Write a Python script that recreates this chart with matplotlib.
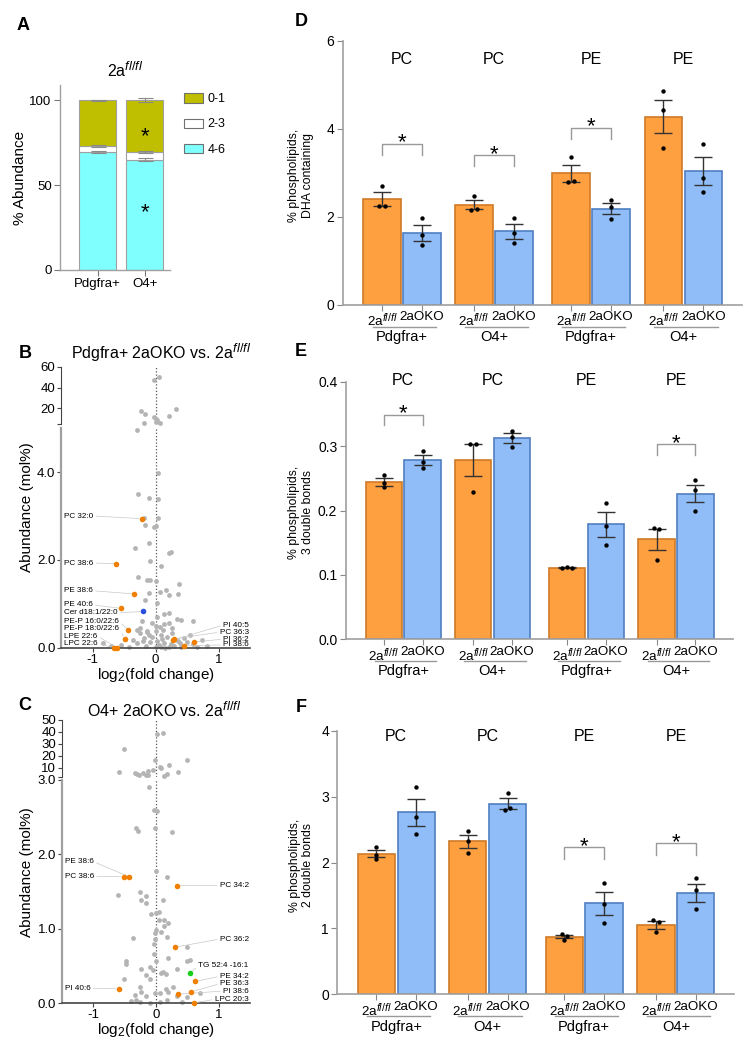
import numpy as np
import matplotlib.pyplot as plt
import matplotlib._mathtext as mathtext_internal
from matplotlib.patches import Patch

plt.rcParams['font.family'] = ['Liberation Sans', 'DejaVu Sans']
plt.rcParams['mathtext.fontset'] = 'custom'
plt.rcParams['mathtext.rm'] = 'Liberation Sans'
plt.rcParams['mathtext.it'] = 'Liberation Sans:italic'
plt.rcParams['mathtext.bf'] = 'Liberation Sans:bold'
plt.rcParams['axes.unicode_minus'] = False
# the fl/fl superscripts in the figure are a bit larger than mathtext's default
mathtext_internal.SHRINK_FACTOR = 0.8

W, H = 754, 1048

# ---------------- data ----------------
# A: % abundance by number of double bonds, 2a fl/fl
a_cells = ['Pdgfra+', 'O4+']
a_46 = [69.5, 65.0]
a_23 = [3.5, 4.5]
a_01 = [27.0, 30.5]
a_err46 = [0.6, 1.0]
a_err23 = [0.5, 0.6]
a_err01 = [0.4, 1.3]

# B: Pdgfra+ 2aOKO vs 2a fl/fl  (log2 fold change, mol%)
b_up_x = [-0.03, 0.05, -0.23, -0.16, 0.33, 0.22, -0.02, 0.01, 0.03, 0.00, 0.07, -0.19]
b_up_y = [47.3, 50.2, 17.1, 14.6, 19.3, 12.1, 11.1, 9.8, 8.6, 6.7, 6.0, 6.0]
b_gray_x = [-0.30, 0.04, -0.28, -0.10, 0.04, -0.19, 0.04, -0.17, -0.02, 0.00,
            -0.32, -0.10, 0.21, 0.24, -0.09, 0.08, -0.27, -0.14, -0.08, 0.00,
            0.37, 0.17, 0.21, 0.36, -0.10, 0.07, -0.17, 0.03, 0.13, 0.21,
            0.03, 0.34, 0.40, 0.59, -0.22, -0.06, 0.00, 0.07, 0.14, 0.21,
            0.26, -0.29, -0.24, -0.13,
            -0.84, -0.29, -0.18, -0.08, 0.00, 0.05, 0.13, 0.21, 0.39, 0.50,
            0.66, 0.74, -0.24, -0.13, 0.08, 0.18, 0.26, -0.42, -0.55,
            -0.35, -0.05, 0.10, 0.30, 0.45, 0.60, 0.02, -0.15, 0.15, 0.35,
            0.55, -0.10, 0.25, 0.82, -0.70, 0.40, 0.00, 0.12, -0.20, 0.08]
b_gray_y = [4.95, 3.98, 3.50, 3.41, 3.38, 2.96, 2.96, 2.80, 2.75, 2.78,
            2.28, 2.38, 2.15, 2.19, 1.98, 1.86, 1.61, 1.54, 1.55, 1.53,
            1.45, 1.32, 1.20, 1.23, 1.26, 1.27, 1.09, 1.03, 0.77, 0.79,
            0.71, 0.65, 0.64, 0.61, 0.62, 0.56, 0.50, 0.47, 0.55, 0.56,
            0.45, 0.41, 0.45, 0.39,
            0.11, 0.11, 0.22, 0.14, 0.03, 0.07, 0.12, 0.03, 0.11, 0.14,
            0.03, 0.18, 0.33, 0.37, 0.30, 0.26, 0.33, 0.03, 0.07,
            0.18, 0.25, 0.20, 0.05, 0.22, 0.08, 0.15, 0.05, 0.00, 0.15,
            0.30, 0.30, 0.10, 0.05, 0.05, 0.02, 0.38, 0.40, 0.15, 0.02]
b_hit_names = ['PC 32:0', 'PC 38:6', 'PE 38:6', 'PE 40:6', 'Cer d18:1/22:0',
               'PE-P 16:0/22:6', 'PE-P 18:0/22:6', 'LPE 22:6', 'LPC 22:6',
               'PI 40:5', 'PC 36:3', 'PI 36:2', 'PI 38:6']
b_hit_x = [-0.22, -0.62, -0.34, -0.55, -0.20, -0.43, -0.49, -0.61, -0.66, 0.28, 0.30, 0.61, 0.46]
b_hit_y = [2.94, 1.92, 1.23, 0.90, 0.83, 0.40, 0.21, 0.01, 0.00, 0.18, 0.21, 0.14, 0.05]
b_hit_kind = ['PL', 'PL', 'PL', 'PL', 'Cer', 'PL', 'PL', 'PL', 'PL', 'PL', 'PL', 'PL', 'PL']

# C: O4+ 2aOKO vs 2a fl/fl
c_up_x = [0.02, 0.12, -0.51, -0.02, 0.49, 0.07, 0.08, 0.21, -0.58, -0.34,
          -0.30, -0.27, -0.21, -0.16, -0.12, -0.12, -0.05, 0.13, 0.18, 0.35]
c_up_y = [38.0, 39.4, 26.0, 16.7, 17.0, 11.0, 10.3, 12.5, 6.4, 5.6,
          4.75, 3.9, 5.6, 4.2, 4.2, 7.8, 8.3, 3.6, 4.75, 6.4]
c_gray_x = [-0.11, -0.03, 0.02, -0.31, -0.29, -0.02, 0.26, 0.01, 0.18,
            -0.61, -0.25, -0.16, -0.23, -0.15, 0.11,
            -0.08, 0.00, 0.05, 0.05, 0.13, 0.19, 0.13,
            0.00, -0.02, 0.09, -0.37, -0.02, -0.03, 0.17, 0.50,
            -0.03, 0.00, 0.20, 0.50, 0.54, -0.47, -0.47,
            -0.24, -0.10, -0.04, 0.12, 0.16, 0.09, 0.34,
            -0.50, -0.16, -0.10,
            -0.25, -0.23, -0.33, -0.40, -0.31, -0.15, -0.02, 0.06, 0.16, 0.20,
            0.27, 0.33, 0.49, 0.41, 0.70, 0.17, -0.25, -0.10, 0.06]
c_gray_y = [2.91, 2.59, 2.58, 2.36, 2.31, 2.35, 2.30, 1.78, 1.70,
            1.45, 1.50, 1.44, 1.38, 1.35, 1.39,
            1.20, 1.21, 1.23, 1.12, 1.11, 1.08, 1.04,
            0.98, 0.94, 0.96, 0.87, 0.86, 0.80, 0.89, 0.76,
            0.66, 0.57, 0.60, 0.57, 0.58, 0.57, 0.52,
            0.46, 0.48, 0.44, 0.42, 0.39, 0.40, 0.46,
            0.32, 0.38, 0.32,
            0.22, 0.15, 0.11, 0.03, 0.04, 0.09, 0.13, 0.14, 0.19, 0.15,
            0.22, 0.09, 0.08, 0.02, 0.13, 0.04, 0.02, 0.00, 0.02]
c_hit_names = ['PE 38:6', 'PC 38:6', 'PC 34:2', 'PC 36:2', 'TG 52:4 -16:1',
               'PE 34:2', 'PE 36:3', 'PI 38:6', 'LPC 20:3', 'PI 40:6']
c_hit_x = [-0.43, -0.51, 0.33, 0.30, 0.55, 0.63, 0.56, 0.35, 0.60, -0.59]
c_hit_y = [1.70, 1.70, 1.58, 0.75, 0.41, 0.29, 0.15, 0.12, 0.00, 0.19]
c_hit_kind = ['PL', 'PL', 'PL', 'PL', 'TG', 'PL', 'PL', 'PL', 'PL', 'PL']

# D-F: % phospholipids, individual samples (n=3), 2a fl/fl vs 2aOKO
groups_class = ['PC', 'PC', 'PE', 'PE']
groups_cell = ['Pdgfra+', 'O4+', 'Pdgfra+', 'O4+']
d_ctrl = [[2.70, 2.25, 2.25], [2.47, 2.15, 2.18], [3.35, 2.78, 2.81], [4.85, 4.42, 3.55]]
d_ko = [[1.96, 1.58, 1.35], [1.96, 1.63, 1.40], [2.38, 2.22, 1.95], [3.65, 2.88, 2.57]]
e_ctrl = [[0.255, 0.242, 0.236], [0.304, 0.304, 0.229], [0.111, 0.112, 0.111], [0.173, 0.171, 0.123]]
e_ko = [[0.292, 0.276, 0.266], [0.324, 0.314, 0.299], [0.212, 0.176, 0.147], [0.247, 0.232, 0.200]]
f_ctrl = [[2.23, 2.12, 2.05], [2.48, 2.33, 2.15], [0.91, 0.89, 0.83], [1.13, 1.10, 0.94]]
f_ko = [[3.15, 2.69, 2.44], [3.06, 2.80, 2.82], [1.69, 1.37, 1.08], [1.76, 1.58, 1.29]]
d_sig = [0, 1, 2]
e_sig = [0, 3]
f_sig = [2, 3]

# ---------------- layout helpers ----------------
def rect(l, t, r, b):
    return [l / W, 1 - b / H, (r - l) / W, (b - t) / H]


def fx(x, y):
    return x / W, 1 - y / H


fig = plt.figure(figsize=(W / 100, H / 100), dpi=100)

GRID = '#a0a0a0'
for letter, (lx, ly) in zip('ABCDEF', [(23, 25), (25, 353), (25, 706), (301, 21), (301, 351), (301, 708)]):
    fig.text(*fx(lx, ly), letter, fontsize=13, fontweight='bold', ha='center', va='center')

# ---------------- panel A ----------------
axA = fig.add_axes(rect(60, 85, 170, 270))
xa = np.arange(len(a_cells))
bw = 0.79
col01, col23, col46 = '#bfbf00', '#ffffff', '#80ffff'
axA.bar(xa, a_46, bw, color=col46, edgecolor=GRID, lw=0.8, zorder=1)
axA.bar(xa, a_23, bw, bottom=a_46, color=col23, edgecolor=GRID, lw=0.8, zorder=1)
bot01 = np.add(a_46, a_23)
axA.bar(xa, a_01, bw, bottom=bot01, color=col01, edgecolor=GRID, lw=0.8, zorder=1)
for top, err in ((np.array(a_46), a_err46), (bot01, a_err23), (bot01 + a_01, a_err01)):
    axA.errorbar(xa, top, yerr=err, fmt='none', ecolor='#8a8a8a', elinewidth=0.8,
                 capsize=5.4, capthick=0.8, zorder=2)
for yv in (82.8, 37.9):
    axA.annotate('*', xy=(1, yv), xytext=(0, -9), textcoords='offset points',
                 ha='center', va='baseline', fontsize=16)
axA.set_xlim(-0.8, 1.54)
axA.set_ylim(0, 109)
axA.set_yticks([0, 50, 100])
axA.set_xticks(xa, a_cells)
for s in ('top', 'right'):
    axA.spines[s].set_visible(False)
for s in ('left', 'bottom'):
    axA.spines[s].set_color(GRID)
    axA.spines[s].set_linewidth(1.0)
axA.tick_params(labelsize=9.5, color='#777777', length=4, width=0.8, pad=2)
axA.set_ylabel('% Abundance', fontsize=11, labelpad=2)
handles = [Patch(facecolor=col01, edgecolor='#707070', lw=0.8, label='0-1'),
           Patch(facecolor=col23, edgecolor='#707070', lw=0.8, label='2-3'),
           Patch(facecolor=col46, edgecolor='#707070', lw=0.8, label='4-6')]
axA.legend(handles=handles, loc='upper left', bbox_to_anchor=(1.127, 0.955), frameon=False,
           fontsize=9, handlelength=1.55, handleheight=0.75, handletextpad=0.35,
           labelspacing=1.05, borderpad=0, borderaxespad=0)
fig.text(*fx(125, 70), r'2a$^{fl/fl}$', fontsize=11.5, ha='center', va='center')

# ---------------- volcano panels B, C ----------------
GREY_PT = '#b4b4b4'
KIND_COL = {'PL': '#f07f00', 'Cer': '#2a4fe0', 'TG': '#18d018'}


def volcano(r_up, r_lo, lim_up, lim_lo, ticks_up, ticks_lo, lo_fmt,
            up_x, up_y, gx, gy, names, hx, hy, kinds, lab_y, lab_side):
    axu = fig.add_axes(rect(*r_up))
    axl = fig.add_axes(rect(*r_lo))
    for ax in (axu, axl):
        ax.set_xlim(-1.5, 1.5)
        ax.axvline(0, color='#555555', lw=0.9, ls=(0, (1, 1.6)), zorder=1)
        ax.spines['top'].set_visible(False)
        ax.spines['right'].set_visible(False)
        ax.tick_params(labelsize=9.5, length=3, width=0.8, color='#444444', pad=1)
    axu.spines['bottom'].set_visible(False)
    axu.tick_params(axis='x', bottom=False, labelbottom=False)
    axu.spines['left'].set_color('#444444')
    axu.spines['left'].set_linewidth(0.8)
    axu.set_ylim(*lim_up)
    axu.set_yticks([lim_up[0]] + ticks_up, [''] + [str(t) for t in ticks_up])
    axl.set_ylim(*lim_lo)
    axl.set_yticks(ticks_lo, [lo_fmt.format(t) for t in ticks_lo])
    axl.spines['left'].set_color('#a0a0a0')
    axl.spines['left'].set_linewidth(1.6)
    axl.spines['bottom'].set_color('#444444')
    axl.spines['bottom'].set_linewidth(1.2)
    axl.set_xticks([-1, 0, 1])
    axl.set_xlabel(r'log$_2$(fold change)', fontsize=11, labelpad=0)
    axu.scatter(up_x, up_y, s=12, color=GREY_PT, lw=0, zorder=2, clip_on=False)
    axl.scatter(gx, gy, s=12, color=GREY_PT, lw=0, zorder=2, clip_on=False)
    for name, x, y, k, ly, side in zip(names, hx, hy, kinds, lab_y, lab_side):
        axl.scatter([x], [y], s=16, color=KIND_COL[k], lw=0, zorder=4, clip_on=False)
        if side == 'L':
            tx, ha, rel = -1.45, 'left', (1, 0.5)
        else:
            tx, ha, rel = 1.48, 'right', (0, 0.5)
        axl.annotate(name, xy=(x, y), xytext=(tx, ly), fontsize=5.9, ha=ha, va='center',
                     arrowprops=dict(arrowstyle='-', color='#c8c8c8', lw=0.5,
                                     shrinkA=0, shrinkB=2, relpos=rel),
                     annotation_clip=False, zorder=3)
    return axu, axl


volcano((61, 367, 250, 424), (61, 428, 250, 648), (4.8, 60), (0, 5.0), [20, 40, 60],
        [0, 2, 4], '{:.1f}', b_up_x, b_up_y, b_gray_x, b_gray_y,
        b_hit_names, b_hit_x, b_hit_y, b_hit_kind,
        [3.0, 1.93, 1.30, 0.98, 0.80, 0.61, 0.45, 0.27, 0.11, 0.52, 0.36, 0.20, 0.07],
        ['L'] * 9 + ['R'] * 4)
fig.text(*fx(161, 353), r'Pdgfra+ 2aOKO vs. 2a$^{fl/fl}$', fontsize=11.5, ha='center', va='center')
fig.text(*fx(27, 507), 'Abundance (mol%)', fontsize=11, rotation=90, ha='center', va='center')

volcano((61.7, 720, 250, 777), (61.7, 780, 250, 1003), (2.5, 50), (0, 3.0), [10, 20, 30, 40, 50],
        [0, 1, 2, 3], '{:.1f}', c_up_x, c_up_y, c_gray_x, c_gray_y,
        c_hit_names, c_hit_x, c_hit_y, c_hit_kind,
        [1.90, 1.70, 1.58, 0.86, 0.50, 0.36, 0.26, 0.16, 0.05, 0.20],
        ['L', 'L', 'R', 'R', 'R', 'R', 'R', 'R', 'R', 'L'])
fig.text(*fx(164, 710), r'O4+ 2aOKO vs. 2a$^{fl/fl}$', fontsize=11.5, ha='center', va='center')
fig.text(*fx(27, 872), 'Abundance (mol%)', fontsize=11, rotation=90, ha='center', va='center')

# ---------------- bar panels D, E, F ----------------
X_ORANGE = np.array([1.05, 3.50, 6.09, 8.55])
DX_BLUE = 1.065
ORANGE, ORANGE_EDGE = '#ffa040', '#cf7a28'
BLUE, BLUE_EDGE = '#90bdf7', '#4f7fc0'


def jitter(vals, tol):
    off = np.zeros(len(vals))
    for i in range(len(vals)):
        for j in range(i + 1, len(vals)):
            if abs(vals[i] - vals[j]) < tol:
                off[i] -= 0.07
                off[j] += 0.07
    return off


def bar_panel(r, ctrl, ko, ylim, yticks, yfmt, ylab, ylab_xy, cls_y, sig, sig_top, leg, tol):
    ax = fig.add_axes(rect(*r))
    xo = X_ORANGE
    xb = X_ORANGE + DX_BLUE
    for x, vals, fc, ec in ((xo, np.array(ctrl), ORANGE, ORANGE_EDGE), (xb, np.array(ko), BLUE, BLUE_EDGE)):
        m = vals.mean(axis=1)
        se = vals.std(axis=1, ddof=1) / np.sqrt(vals.shape[1])
        ax.bar(x, m, 1.0, color=fc, edgecolor=ec, lw=1.2, zorder=1)
        ax.errorbar(x, m, yerr=se, fmt='none', ecolor='#333333', elinewidth=1.0,
                    capsize=6.5, capthick=1.0, zorder=2)
        for xi, v in zip(x, vals):
            ax.scatter(xi + jitter(v, tol), v, s=10, color='black', lw=0, zorder=3, clip_on=False)
    ax.set_xlim(0, 10.64)
    ax.set_ylim(*ylim)
    ax.set_yticks(yticks, [yfmt.format(t) for t in yticks])
    ticks = np.ravel(np.column_stack([xo, xb]))
    ax.set_xticks(ticks, [r'2a$^{fl/fl}$', '2aOKO'] * 4)
    ax.tick_params(axis='x', labelsize=9.6, length=4, width=0.8, color='#888888', pad=1)
    ax.tick_params(axis='y', labelsize=10, length=4, width=0.8, color='#888888', pad=2)
    for s in ('top', 'right'):
        ax.spines[s].set_visible(False)
    for s in ('left', 'bottom'):
        ax.spines[s].set_color(GRID)
        ax.spines[s].set_linewidth(1.2)
    tr = ax.get_xaxis_transform()
    for i in range(len(xo)):
        gc = (xo[i] + xb[i]) / 2
        ax.plot([xo[i] - 0.25, xb[i] + 0.38], [-0.084, -0.084], transform=tr,
                color='#999999', lw=1.0, clip_on=False)
        ax.text(gc, -0.123, groups_cell[i], transform=tr, ha='center', va='center', fontsize=10.5)
        ax.text(gc, cls_y, groups_class[i], transform=tr, ha='center', va='center', fontsize=11.5)
    for g, top in zip(sig, sig_top):
        ax.plot([xo[g], xo[g], xb[g], xb[g]], [top - leg, top, top, top - leg],
                color='#999999', lw=1.0, zorder=2)
        ax.annotate('*', xy=((xo[g] + xb[g]) / 2, top), xytext=(0, -3.5), textcoords='offset points',
                    ha='center', va='baseline', fontsize=16)
    fig.text(*fx(*ylab_xy), ylab, fontsize=8.8, rotation=90, ha='center', va='center',
             linespacing=1.2)
    return ax


bar_panel((342.7, 40.7, 741.7, 304.5), d_ctrl, d_ko, (0, 6), [0, 2, 4, 6], '{:d}',
          '% phospholipids,\nDHA containing', (301, 175), 0.93, d_sig, [3.66, 3.40, 4.02], 0.25, 0.05)
bar_panel((345.7, 381.7, 732.7, 639.3), e_ctrl, e_ko, (0, 0.4), [0.0, 0.1, 0.2, 0.3, 0.4], '{:.1f}',
          '% phospholipids,\n3 double bonds', (301, 512), 1.004, e_sig, [0.349, 0.303], 0.017, 0.005)
bar_panel((337.3, 730.7, 734, 994.3), f_ctrl, f_ko, (0, 4), [0, 1, 2, 3, 4], '{:d}',
          '% phospholipids,\n2 double bonds', (301.5, 865), 0.977, f_sig, [2.23, 2.29], 0.17, 0.05)

fig.savefig('out.png', dpi=100)
